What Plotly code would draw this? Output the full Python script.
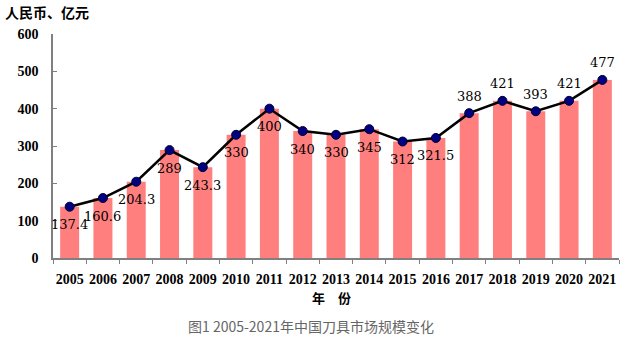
import plotly.graph_objects as go

years = [str(y) for y in range(2005, 2022)]
values = [137.4, 160.6, 204.3, 289, 243.3, 330, 400, 340, 330, 345, 312, 321.5, 388, 421, 393, 421, 477]
label_text = ["137.4", "160.6", "204.3", "289", "243.3", "330", "400", "340", "330", "345",
              "312", "321.5", "388", "421", "393", "421", "477"]
label_below = [True] * 12 + [False] * 5

fig = go.Figure()
fig.add_trace(go.Bar(x=years, y=values, marker=dict(color="#FF7F7F", line=dict(width=0)),
                     showlegend=False, hoverinfo="skip"))
fig.add_trace(go.Scatter(x=years, y=values, mode="lines+markers",
                         line=dict(color="black", width=2.5),
                         marker=dict(color="#000080", size=9, line=dict(color="#000033", width=1)),
                         showlegend=False))

H = 224.0
W = 566.0
annotations = []
for i, (v, t, below) in enumerate(zip(values, label_text, label_below)):
    annotations.append(dict(x=i, y=v, xref="x", yref="y", text=t, showarrow=False,
                            yshift=-18 if below else 17, xanchor="center", yanchor="middle",
                            font=dict(family="DejaVu Serif", size=13, color="black")))
annotations += [
    dict(text="人民币、亿元", x=(3 - 53) / W, y=(258 - 12) / H, xref="paper", yref="paper",
         showarrow=False, xanchor="left", yanchor="middle",
         font=dict(family="Noto Sans CJK SC", size=14, color="black", weight="bold")),
    dict(text="年　份", x=(331 - 53) / W, y=(258 - 297) / H, xref="paper", yref="paper",
         showarrow=False, xanchor="center", yanchor="middle",
         font=dict(family="Noto Sans CJK SC", size=13, color="black", weight="bold")),
    dict(text="图1 2005-2021年中国刀具市场规模变化", x=(311 - 53) / W, y=(258 - 326) / H,
         xref="paper", yref="paper", showarrow=False, xanchor="center", yanchor="middle",
         font=dict(family="Noto Sans CJK SC", size=14, color="#666666")),
]

fig.update_layout(
    width=626, height=344,
    margin=dict(l=53, r=7, t=34, b=86),
    plot_bgcolor="white", paper_bgcolor="white",
    bargap=0.43,
    font=dict(family="Liberation Serif", color="black"),
    xaxis=dict(type="category", range=[-0.5, 16.5], showline=True, linecolor="#808080", linewidth=1.5,
               ticks="outside", tickson="boundaries", ticklen=4, tickcolor="#808080",
               tickangle=0,
               tickfont=dict(family="Liberation Serif", size=14, color="black", weight="bold"),
               showgrid=False, ticklabelstandoff=7),
    yaxis=dict(range=[0, 600], dtick=100, showline=True, linecolor="#808080", linewidth=1.5,
               ticks="inside", ticklen=4, tickcolor="#808080", showgrid=False, zeroline=False,
               tickfont=dict(family="Liberation Serif", size=14, color="black", weight="bold"),
               ticklabelstandoff=10),
    annotations=annotations,
)
fig.write_html("out.html")
